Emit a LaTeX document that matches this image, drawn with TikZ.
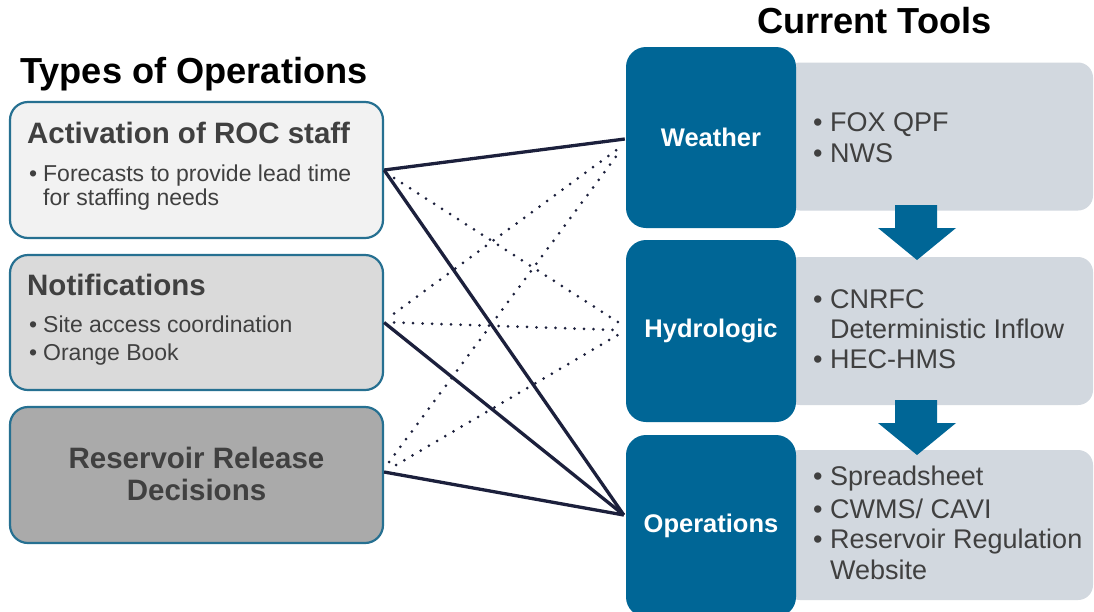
\documentclass[tikz,border=0pt]{standalone}
\usepackage{fontspec}
\setmainfont{Liberation Sans}
\usetikzlibrary{calc}
\definecolor{darkblue}{RGB}{0,102,150}
\definecolor{toolgrey}{RGB}{210,216,223}
\definecolor{fillA}{RGB}{242,242,242}
\definecolor{fillB}{RGB}{218,218,218}
\definecolor{fillC}{RGB}{170,170,170}
\definecolor{bordc}{RGB}{38,112,145}
\definecolor{txtgrey}{RGB}{64,64,64}
\definecolor{linec}{RGB}{28,32,60}
\begin{document}
\begin{tikzpicture}[x=1pt,y=-1pt,
  leftbox/.style={draw=bordc, line width=2.2pt, rounded corners=18pt, minimum width=373pt, inner sep=0pt},
  darkbox/.style={fill=darkblue, rounded corners=20pt, minimum width=170pt, minimum height=182pt, inner sep=0pt,
     text=white, font=\bfseries\fontsize{25.5}{30}\selectfont},
  greybox/.style={fill=toolgrey, rounded corners=15pt, minimum width=308pt, inner sep=0pt},
  maintitle/.style={anchor=base west, inner sep=0pt, font=\bfseries\fontsize{36.2}{40}\selectfont, text=black},
  lefttitle/.style={anchor=base west, inner sep=0pt, font=\bfseries\fontsize{29.5}{34}\selectfont, text=txtgrey},
  lefttext/.style={anchor=base west, inner sep=0pt, font=\fontsize{23}{27}\selectfont, text=txtgrey},
  tooltext/.style={anchor=base west, inner sep=0pt, font=\fontsize{27}{31}\selectfont, text=txtgrey},
  flowarrow/.style={fill=darkblue},
  solidline/.style={draw=linec, line width=3.3pt},
  dotline/.style={draw=linec, line width=3pt, dash pattern=on 0pt off 9.5pt, line cap=round}]
\clip (0,0) rectangle (1094,611);
\fill[white] (0,0) rectangle (1094,611);

% titles
\node[maintitle] (ttypes) at (20,83) {Types of Operations};
\node[maintitle] (ttools) at (757,33) {Current Tools};

% right grey boxes
\node[greybox, minimum height=148pt] (wg) at (939,136.5) {};
\node[greybox, minimum height=148pt] (hg) at (939,331) {};
\node[greybox, minimum height=150pt] (og) at (939,525) {};

% flow arrows
\fill[flowarrow] (895,205) -- (937,205) -- (937,228) -- (956,228) -- (917,260) -- (878,228) -- (895,228) -- cycle;
\fill[flowarrow] (895,400) -- (937,400) -- (937,423) -- (956,423) -- (917,455) -- (878,423) -- (895,423) -- cycle;

% dark boxes
\node[darkbox, minimum height=181pt] (wea) at (711,137.5) {Weather};
\node[darkbox] (hyd) at (711,331) {Hydrologic};
\node[darkbox] (ops) at (711,526) {Operations};

% tool texts
\node[tooltext] (t1) at (813,131) {\makebox[17pt][l]{•}FOX QPF};
\node[tooltext] (t2) at (813,162) {\makebox[17pt][l]{•}NWS};
\node[tooltext] (t3) at (813,308) {\makebox[17pt][l]{•}CNRFC};
\node[tooltext] (t4) at (830,338) {Deterministic Inflow};
\node[tooltext] (t5) at (813,368) {\makebox[17pt][l]{•}HEC-HMS};
\node[tooltext] (t6) at (813,485) {\makebox[17pt][l]{•}Spreadsheet};
\node[tooltext] (t7) at (813,518) {\makebox[17pt][l]{•}CWMS/ CAVI};
\node[tooltext] (t8) at (813,548) {\makebox[17pt][l]{•}Reservoir Regulation};
\node[tooltext] (t9) at (830,579) {Website};

% left boxes
\node[leftbox, fill=fillA, minimum height=136pt] (act) at (196.5,170) {};
\node[leftbox, fill=fillB, minimum height=135pt] (not) at (196.5,322.5) {};
\node[leftbox, fill=fillC, minimum height=136pt] (rel) at (196.5,475) {};

\node[lefttitle] (a1) at (27,143) {Activation of ROC staff};
\node[lefttext] (a2) at (29,181) {\makebox[14pt][l]{•}Forecasts to provide lead time};
\node[lefttext] (a3) at (43,205) {for staffing needs};

\node[lefttitle] (n1) at (27,295) {Notifications};
\node[lefttext] (n2) at (29,332) {\makebox[14pt][l]{•}Site access coordination};
\node[lefttext] (n3) at (29,360) {\makebox[14pt][l]{•}Orange Book};

\node[lefttitle, anchor=base] (r1) at (196.5,468) {Reservoir Release};
\node[lefttitle, anchor=base] (r2) at (196.5,500) {Decisions};

% dotted connectors
\draw[dotline] ($(act.east)+(10,8)$) -- ($(hyd.west)+(-8,-9)$);
\draw[dotline] ($(not.east)+(10,-9)$) -- ($(wea.west)+(-6,10)$);
\draw[dotline] ($(not.east)+(10,0)$) -- ($(hyd.west)+(-8,-1)$);
\draw[dotline] ($(rel.east)+(5,-13)$) -- ($(wea.west)+(-6,14)$);
\draw[dotline] ($(rel.east)+(12,-10)$) -- ($(hyd.west)+(-8,4)$);

% solid connectors
\draw[solidline] (act.east) -- ($(wea.west)+(-1,1.5)$);
\draw[solidline] (act.east) -- ($(ops.west)+(-2,-11)$);
\draw[solidline] (not.east) -- ($(ops.west)+(-2,-11)$);
\draw[solidline] ($(rel.east)+(0,-3)$) -- ($(ops.west)+(-2,-11)$);
\end{tikzpicture}
\end{document}
